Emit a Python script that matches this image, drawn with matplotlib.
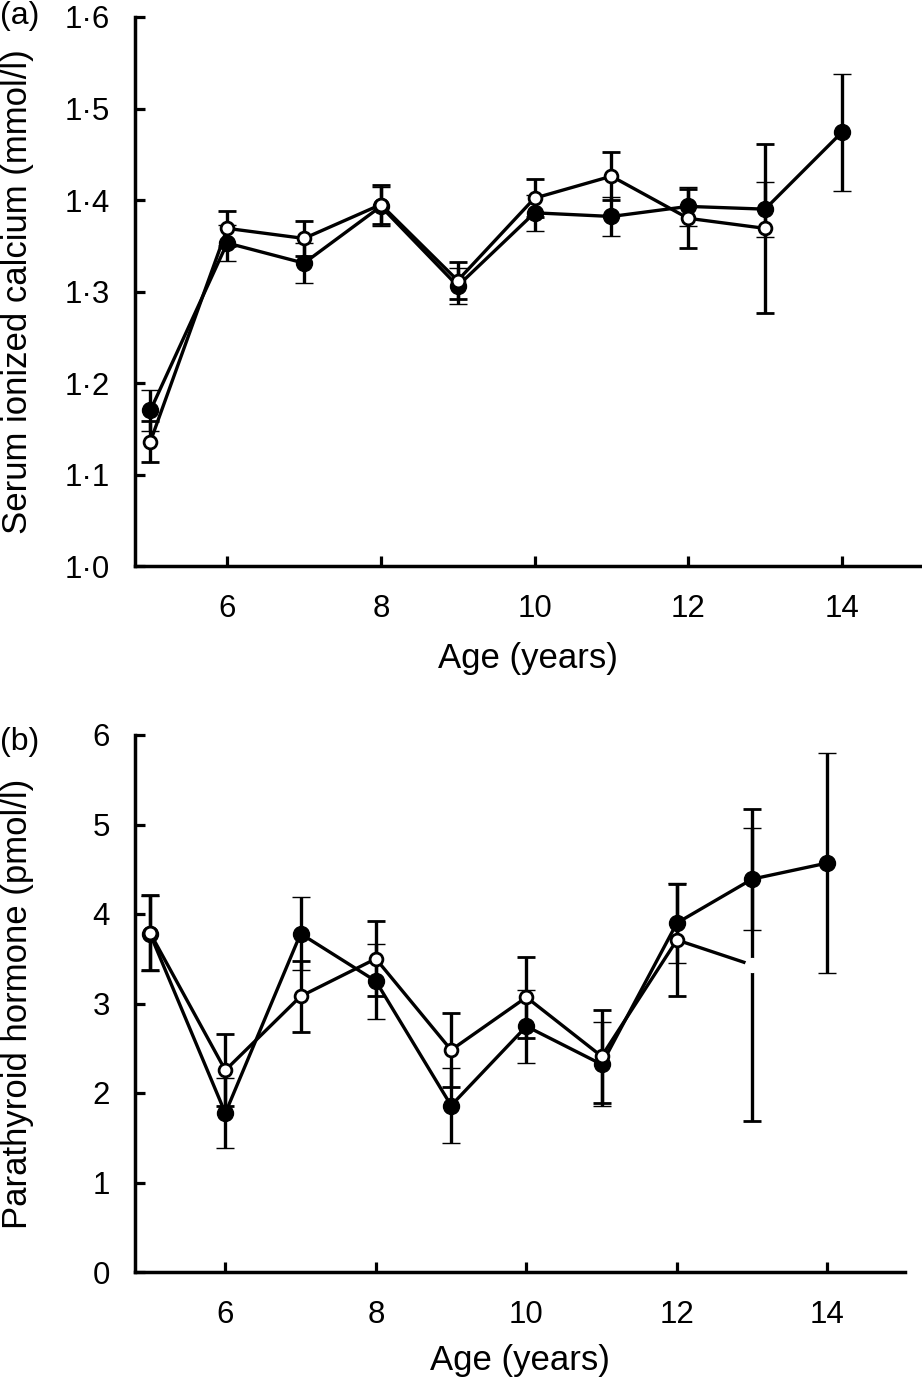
import matplotlib
matplotlib.use("Agg")
import matplotlib.pyplot as plt

plt.rcParams['font.family'] = ['Liberation Sans', 'DejaVu Sans']

# (a) serum ionized calcium, mmol/l
ages_filled = [5, 6, 7, 8, 9, 10, 11, 12, 13, 14]
ages_open = [5, 6, 7, 8, 9, 10, 11, 12, 13]
ca_filled = [1.170, 1.353, 1.331, 1.393, 1.306, 1.386, 1.382, 1.393, 1.390, 1.474]
ca_filled_err = [0.022, 0.020, 0.022, 0.021, 0.020, 0.020, 0.021, 0.021, 0.030, 0.064]
ca_open = [1.136, 1.369, 1.358, 1.395, 1.312, 1.402, 1.426, 1.380, 1.369]
ca_open_err = [0.022, 0.019, 0.019, 0.021, 0.020, 0.021, 0.026, 0.032, 0.092]

# (b) parathyroid hormone, pmol/l
pth_filled = [3.78, 1.775, 3.78, 3.25, 1.86, 2.745, 2.32, 3.90, 4.39, 4.57]
pth_filled_err = [0.42, 0.39, 0.41, 0.42, 0.42, 0.41, 0.47, 0.45, 0.57, 1.23]
pth_open = [3.79, 2.254, 3.08, 3.50, 2.48, 3.07, 2.41, 3.71, 3.43]
pth_open_err = [0.42, 0.40, 0.40, 0.42, 0.41, 0.45, 0.52, 0.63, 1.74]

x_ticks = [6, 8, 10, 12, 14]
ca_ticks = [1.0, 1.1, 1.2, 1.3, 1.4, 1.5, 1.6]
ca_ticklabels = ['1·0', '1·1', '1·2', '1·3', '1·4', '1·5', '1·6']
pth_ticks = [0, 1, 2, 3, 4, 5, 6]
pth_ticklabels = ['0', '1', '2', '3', '4', '5', '6']

W, H = 922, 1377
fig = plt.figure(figsize=(W / 100, H / 100), dpi=100)


def px_axes(left, top, right, bottom):
    return fig.add_axes([left / W, 1 - bottom / H, (right - left) / W, (bottom - top) / H])


ax_a = px_axes(135, 17, 921, 566)
ax_b = px_axes(135, 735, 905, 1272)

err_kw = dict(color='k', lw=2.4, elinewidth=2.4, capsize=6.8, capthick=2.4)


def draw_panel(ax, y_f, e_f, y_o, e_o, hide_last_open=False):
    ax.errorbar(ages_filled, y_f, yerr=e_f, fmt='-o', ms=11.5, mfc='k', mec='k',
                mew=1, zorder=2, **err_kw)
    n = len(ages_open) - 1 if hide_last_open else len(ages_open)
    ax.errorbar(ages_open, y_o, yerr=e_o, fmt='-o', ms=9.2, mfc='white', mec='k',
                mew=2.0, markevery=list(range(n)), zorder=3, **err_kw)
    if hide_last_open:
        # the last open point is printed white, cutting the line and its bar
        ax.plot(ages_open[-1], y_o[-1], 'o', ms=10, mfc='white', mec='white', zorder=4)

    ax.spines['top'].set_visible(False)
    ax.spines['right'].set_visible(False)
    for s in ('left', 'bottom'):
        ax.spines[s].set_linewidth(2.5)
    ax.set_xlim(4.8, 15.03)
    ax.set_xticks(x_ticks)
    ax.tick_params(axis='both', direction='in', length=7, width=2.3, labelsize=22.5)
    ax.tick_params(axis='y', pad=18)
    ax.tick_params(axis='x', pad=20)


draw_panel(ax_a, ca_filled, ca_filled_err, ca_open, ca_open_err)
ax_a.set_ylim(1.0, 1.6)
ax_a.set_yticks(ca_ticks)
ax_a.set_yticklabels(ca_ticklabels)
ax_a.set_ylabel('Serum ionized calcium (mmol/l)', fontsize=25, va='center')
ax_a.yaxis.set_label_coords(-0.149, 0.5)
ax_a.set_xlabel('Age (years)', fontsize=25, va='center')
ax_a.xaxis.set_label_coords(0.5, -0.168)

draw_panel(ax_b, pth_filled, pth_filled_err, pth_open, pth_open_err, hide_last_open=True)
ax_b.set_ylim(0, 6)
ax_b.set_yticks(pth_ticks)
ax_b.set_yticklabels(pth_ticklabels)
ax_b.set_ylabel('Parathyroid hormone (pmol/l)', fontsize=25, va='center')
ax_b.yaxis.set_label_coords(-0.152, 0.5)
ax_b.set_xlabel('Age (years)', fontsize=25, va='center')
ax_b.xaxis.set_label_coords(0.5, -0.164)

fig.text(0 / W, 1 - 16 / H, '(a)', fontsize=23, ha='left', va='center')
fig.text(0 / W, 1 - 742 / H, '(b)', fontsize=23, ha='left', va='center')

fig.savefig('out.png', dpi=100)
